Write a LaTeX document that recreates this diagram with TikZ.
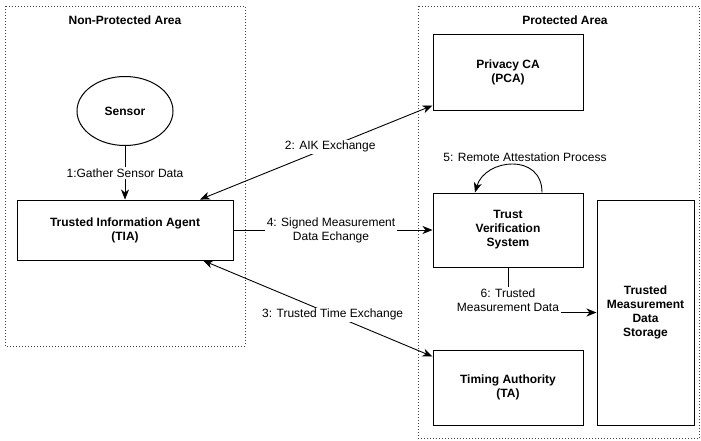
\documentclass[tikz,border=0pt]{standalone}
\usepackage{fontspec}
\setmainfont{Liberation Sans}
\usetikzlibrary{arrows.meta,shapes.geometric}
\begin{document}
\begin{tikzpicture}[x=1pt,y=-1pt,
  box/.style={draw, line width=1pt, align=center, font=\bfseries\fontsize{12}{14}\selectfont, inner sep=0pt},
  area/.style={draw=black!75, line width=0.8pt, dash pattern=on 1pt off 2pt},
  tip/.tip={Stealth[length=10pt,width=8pt,inset=3pt]},
  arr/.style={line width=0.9pt, -tip},
  darr/.style={line width=0.9pt, tip-tip},
  lbl/.style={fill=white, inner sep=1.5pt, align=center, font=\fontsize{12}{14}\selectfont},
  ttl/.style={font=\bfseries\fontsize{12}{14}\selectfont}]
\useasboundingbox (0,0) rectangle (701,440);
\draw[area] (5,6) rectangle (245,346);
\draw[area] (418,6) rectangle (699.5,438);
\node[ttl] (t1) at (125,20) {Non-Protected Area};
\node[ttl] (t2) at (565,20) {Protected Area};

\node[draw, ellipse, line width=1pt, minimum width=96pt, minimum height=69pt, inner sep=0pt, font=\bfseries\fontsize{12}{14}\selectfont] (sensor) at (125,111) {Sensor};
\node[box, minimum width=216pt, minimum height=60pt] (tia) at (125,230) {Trusted Information Agent\\(TIA)};
\node[box, minimum width=150pt, minimum height=76pt] (pca) at (508,72) {Privacy CA\\(PCA)};
\node[box, minimum width=150pt, minimum height=74pt] (tvs) at (508,230) {Trust\\Verification\\System};
\node[box, minimum width=150pt, minimum height=75pt] (ta) at (508,387.5) {Timing Authority\\(TA)};
\node[box, minimum width=97pt, minimum height=225pt] (tmds) at (645.5,312.5) {Trusted\\Measurement\\Data\\Storage};

\draw[arr] (sensor.south) -- node[lbl, pos=0.5] {1:Gather Sensor Data} (tia.north);
\draw[darr] ([xshift=75pt]tia.north) -- node[lbl, pos=0.56] {2: AIK Exchange} ([yshift=5pt]pca.south west);
\draw[darr] ([xshift=78pt]tia.south) -- node[lbl, pos=0.565] {3: Trusted Time Exchange} ([yshift=-7pt]ta.north west);
\draw[arr] (tia.east) -- node[lbl, pos=0.49] {4: Signed Measurement\\Data Echange} (tvs.west);
\draw[arr] ([xshift=34pt]tvs.north) .. controls +(0,-40) and +(10,-34) .. ([xshift=-33pt]tvs.north);
\node[lbl, fill=none] (l5) at (525,157) {5: Remote Attestation Process};
\draw[arr] (tvs.south) |- node[lbl, pos=0.36] {6: Trusted\\Measurement Data} (tmds.west);
\end{tikzpicture}
\end{document}
